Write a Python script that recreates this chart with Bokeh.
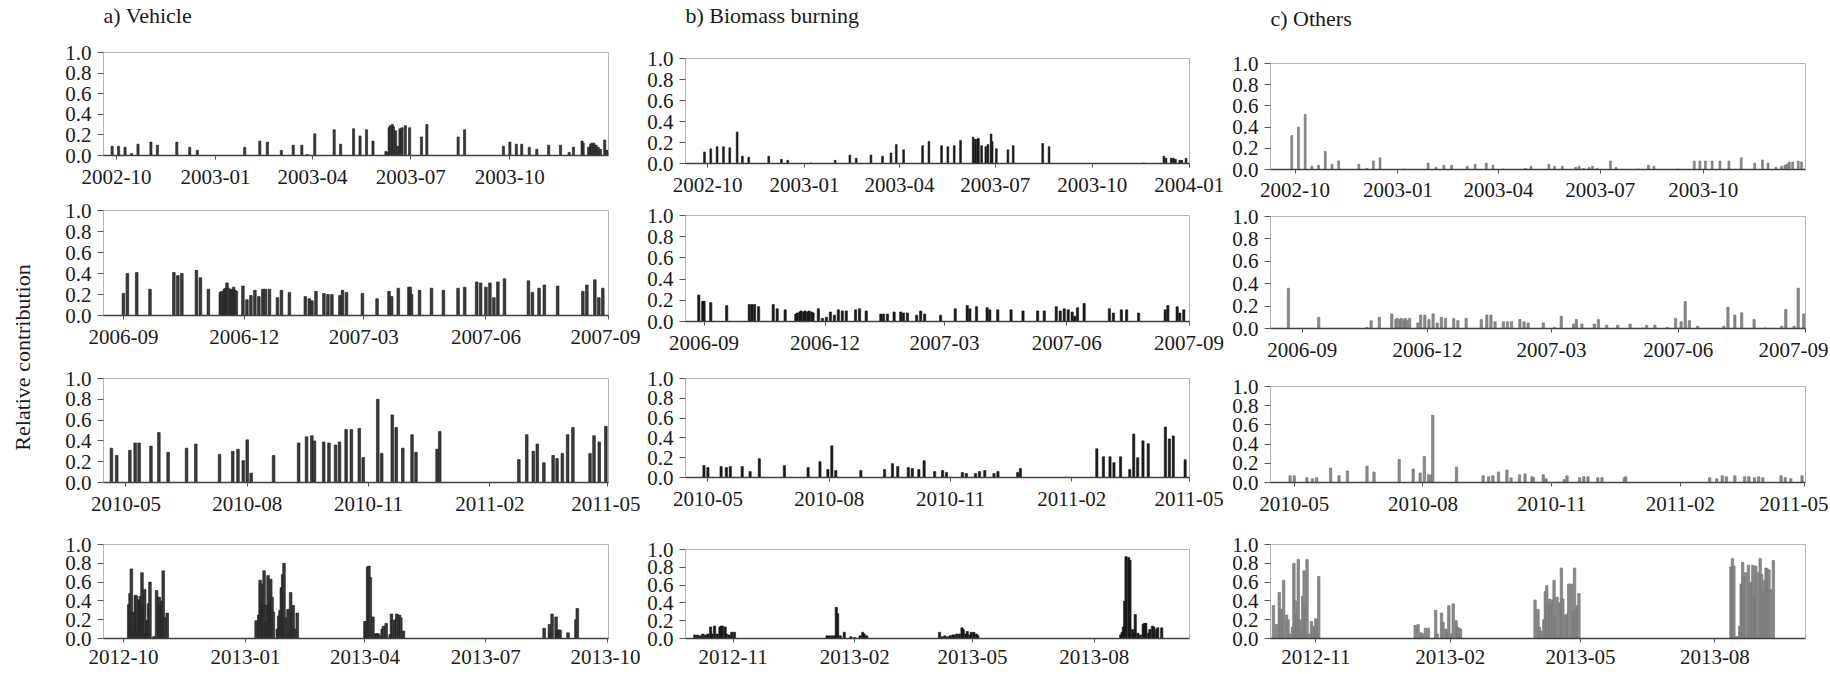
import pandas as pd
from bokeh.plotting import figure
from bokeh.models import (Range1d, FixedTicker, DatetimeTickFormatter,
                          PrintfTickFormatter, ColumnDataSource, Label)
from bokeh.layouts import row, column
from bokeh.embed import file_html
from bokeh.resources import INLINE

FONT = "Liberation Serif"

# ---------------- data ----------------
titles = ["a) Vehicle", "b) Biomass burning", "c) Others"]
y_label = "Relative contribution"
y_ticks = [0.0, 0.2, 0.4, 0.6, 0.8, 1.0]

# sample dates are stored as day numbers counted from each period's start date
start_p1 = "2002-10-01"
start_p2 = "2006-09-01"
start_p3 = "2010-05-01"
start_p4a = "2012-10-01"
start_p4bc = "2012-11-01"

ticks_p1 = ["2002-10", "2003-01", "2003-04", "2003-07", "2003-10", "2004-01"]
ticks_p2 = ["2006-09", "2006-12", "2007-03", "2007-06", "2007-09"]
ticks_p3 = ["2010-05", "2010-08", "2010-11", "2011-02", "2011-05"]
ticks_p4a = ["2012-10", "2013-01", "2013-04", "2013-07", "2013-10"]
ticks_p4bc = ["2012-11", "2013-02", "2013-05", "2013-08"]

# ---- period 1 ----
a1_days = [-4, 2, 8, 14, 20, 32, 38, 56, 68, 75, 119, 133, 140, 153, 164, 172, 177, 184, 202, 208,
           220, 226, 232, 238, 250, 251, 253, 254, 256, 257, 259, 261, 263, 265, 268, 272, 283, 288, 317, 323,
           359, 365, 371, 376, 383, 390, 401, 412, 420, 424, 432, 433, 438, 440, 441, 443, 445, 447, 449, 453, 455]
a1_vals = [0.09, 0.09, 0.08, 0.02, 0.11, 0.13, 0.10, 0.13, 0.08, 0.05, 0.08, 0.14, 0.13, 0.05, 0.10, 0.10, 0.01, 0.21, 0.25, 0.11,
           0.26, 0.19, 0.25, 0.14, 0.04, 0.03, 0.27, 0.29, 0.30, 0.28, 0.24, 0.09, 0.26, 0.27, 0.29, 0.27, 0.18, 0.30, 0.18, 0.25,
           0.09, 0.13, 0.11, 0.11, 0.08, 0.06, 0.10, 0.10, 0.03, 0.08, 0.14, 0.12, 0.08, 0.11, 0.12, 0.12, 0.10, 0.08, 0.06, 0.15, 0.05]

b1_days = [-3, 3, 9, 15, 21, 28, 33, 39, 58, 70, 76, 98, 121, 135, 141, 155, 166, 174, 179, 186,
           204, 210, 222, 228, 234, 240, 252, 254, 256, 257, 260, 264, 266, 269, 270, 274, 285, 290, 318, 324,
           414, 433, 435, 440, 442, 444, 448, 450, 454]
b1_vals = [0.11, 0.14, 0.16, 0.16, 0.15, 0.30, 0.07, 0.06, 0.07, 0.04, 0.03, 0.005, 0.03, 0.08, 0.05, 0.08, 0.07, 0.10, 0.18, 0.13,
           0.17, 0.21, 0.17, 0.16, 0.17, 0.22, 0.25, 0.23, 0.23, 0.24, 0.17, 0.16, 0.18, 0.28, 0.21, 0.14, 0.13, 0.17, 0.19, 0.16,
           0.005, 0.07, 0.05, 0.05, 0.05, 0.04, 0.03, 0.03, 0.05]

c1_days = [-3, 3, 9, 15, 21, 27, 33, 39, 57, 64, 70, 76, 97, 119, 126, 133, 140, 154, 161, 171,
           177, 186, 206, 211, 227, 232, 239, 251, 254, 258, 263, 266, 270, 282, 287, 307, 316, 321, 342, 357,
           362, 367, 373, 380, 388, 399, 411, 418, 423, 430, 435, 438, 440, 442, 445, 450, 453]
c1_vals = [0.32, 0.40, 0.52, 0.03, 0.04, 0.17, 0.05, 0.08, 0.05, 0.01, 0.08, 0.11, 0.005, 0.06, 0.02, 0.04, 0.04, 0.03, 0.05, 0.06,
           0.04, 0.005, 0.01, 0.03, 0.05, 0.03, 0.03, 0.02, 0.03, 0.01, 0.02, 0.03, 0.01, 0.08, 0.02, 0.005, 0.04, 0.03, 0.005, 0.08,
           0.08, 0.08, 0.08, 0.08, 0.08, 0.11, 0.06, 0.09, 0.06, 0.02, 0.03, 0.04, 0.05, 0.07, 0.07, 0.08, 0.07]

# ---- period 2 ----
a2_days = [0, 3, 10, 20, 38, 41, 44, 55, 58, 64, 73, 74, 76, 77, 78, 79, 81, 82, 83, 84,
           85, 90, 93, 96, 99, 102, 105, 107, 110, 116, 119, 125, 137, 140, 142, 145, 151, 154, 157, 163,
           165, 168, 180, 191, 200, 202, 207, 215, 216, 217, 223, 232, 241, 252, 257, 266, 269, 273, 276, 279,
           282, 287, 305, 308, 313, 317, 327, 346, 349, 355, 358, 361]
a2_vals = [0.21, 0.40, 0.41, 0.25, 0.41, 0.38, 0.40, 0.43, 0.36, 0.25, 0.22, 0.23, 0.25, 0.26, 0.31, 0.26, 0.25, 0.24, 0.27, 0.24,
           0.23, 0.28, 0.15, 0.19, 0.24, 0.18, 0.25, 0.25, 0.25, 0.17, 0.24, 0.22, 0.18, 0.16, 0.14, 0.23, 0.21, 0.20, 0.20, 0.19,
           0.24, 0.22, 0.21, 0.16, 0.23, 0.18, 0.26, 0.27, 0.27, 0.20, 0.24, 0.26, 0.24, 0.26, 0.27, 0.32, 0.31, 0.27, 0.31, 0.17,
           0.32, 0.35, 0.33, 0.22, 0.26, 0.29, 0.28, 0.23, 0.29, 0.34, 0.17, 0.26]

b2_days = [-4, -1, 0, 5, 17, 34, 36, 38, 41, 52, 55, 61, 69, 70, 72, 73, 75, 76, 78, 79,
           81, 82, 86, 89, 92, 95, 98, 101, 104, 107, 114, 117, 122, 133, 135, 138, 143, 148, 150, 153,
           160, 163, 166, 178, 189, 198, 200, 205, 213, 215, 221, 231, 240, 251, 256, 265, 268, 271, 274, 277,
           279, 281, 286, 305, 308, 314, 318, 327, 347, 349, 356, 358, 361]
b2_vals = [0.25, 0.19, 0.19, 0.18, 0.15, 0.16, 0.16, 0.16, 0.14, 0.16, 0.12, 0.11, 0.07, 0.08, 0.09, 0.10, 0.09, 0.10, 0.09, 0.10,
           0.09, 0.08, 0.12, 0.03, 0.04, 0.09, 0.06, 0.11, 0.10, 0.10, 0.11, 0.12, 0.10, 0.07, 0.07, 0.07, 0.09, 0.09, 0.08, 0.08,
           0.06, 0.10, 0.07, 0.06, 0.12, 0.15, 0.12, 0.14, 0.13, 0.11, 0.11, 0.11, 0.10, 0.10, 0.10, 0.14, 0.10, 0.12, 0.11, 0.09,
           0.05, 0.13, 0.17, 0.12, 0.08, 0.11, 0.11, 0.08, 0.11, 0.15, 0.14, 0.08, 0.11]

c2_days = [-10, 12, 47, 50, 56, 65, 68, 69, 71, 72, 74, 75, 76, 78, 84, 86, 89, 92, 95, 98,
           101, 104, 110, 113, 119, 130, 134, 137, 140, 146, 149, 152, 158, 161, 164, 175, 183, 188, 197, 199,
           203, 212, 215, 221, 229, 238, 247, 250, 256, 265, 271, 275, 278, 281, 287, 306, 309, 314, 319, 328,
           336, 348, 351, 357, 360, 364]
c2_vals = [0.36, 0.10, 0.01, 0.07, 0.10, 0.13, 0.08, 0.09, 0.08, 0.09, 0.08, 0.09, 0.07, 0.09, 0.05, 0.12, 0.12, 0.08, 0.13, 0.05,
           0.10, 0.09, 0.09, 0.07, 0.09, 0.08, 0.12, 0.12, 0.06, 0.06, 0.06, 0.06, 0.08, 0.06, 0.05, 0.05, 0.01, 0.11, 0.04, 0.08,
           0.04, 0.04, 0.08, 0.03, 0.03, 0.04, 0.005, 0.03, 0.03, 0.01, 0.09, 0.06, 0.24, 0.07, 0.02, 0.02, 0.19, 0.12, 0.14, 0.08,
           0.005, 0.02, 0.17, 0.02, 0.36, 0.13]

# ---- period 3 ----
a3_days = [-11, -7, 3, 7, 10, 19, 25, 32, 46, 53, 71, 81, 85, 89, 92, 95, 112, 131, 137, 141,
           143, 150, 154, 159, 162, 167, 171, 177, 180, 191, 194, 202, 205, 210, 217, 220, 236, 238, 298, 304,
           309, 312, 317, 324, 327, 331, 335, 339, 352, 355, 359, 364]
a3_vals = [0.33, 0.26, 0.31, 0.38, 0.38, 0.35, 0.48, 0.29, 0.33, 0.37, 0.27, 0.30, 0.32, 0.21, 0.41, 0.09, 0.26, 0.38, 0.44, 0.45,
           0.40, 0.39, 0.38, 0.36, 0.39, 0.51, 0.51, 0.52, 0.24, 0.80, 0.28, 0.65, 0.53, 0.33, 0.46, 0.29, 0.32, 0.49, 0.22, 0.46,
           0.30, 0.37, 0.19, 0.26, 0.23, 0.28, 0.46, 0.53, 0.28, 0.45, 0.39, 0.54]

b3_days = [-3, 0, 10, 14, 17, 26, 32, 39, 58, 76, 85, 91, 94, 97, 116, 134, 140, 144, 152, 155,
           160, 164, 172, 178, 181, 193, 196, 203, 206, 210, 217, 220, 235, 237, 295, 300, 305, 308, 313, 320,
           323, 326, 330, 334, 347, 350, 353, 362]
b3_vals = [0.12, 0.10, 0.11, 0.10, 0.11, 0.11, 0.06, 0.19, 0.12, 0.10, 0.16, 0.08, 0.32, 0.07, 0.07, 0.08, 0.14, 0.11, 0.10, 0.09,
           0.08, 0.17, 0.06, 0.07, 0.05, 0.05, 0.04, 0.04, 0.06, 0.07, 0.04, 0.06, 0.05, 0.09, 0.29, 0.21, 0.21, 0.15, 0.21, 0.08,
           0.44, 0.20, 0.37, 0.34, 0.51, 0.39, 0.42, 0.18]

c3_days = [-3, 0, 9, 13, 16, 26, 32, 38, 52, 57, 75, 85, 90, 93, 96, 98, 99, 116, 135, 139,
           142, 146, 152, 155, 161, 165, 170, 171, 178, 180, 189, 193, 195, 204, 207, 210, 217, 220, 236, 237,
           297, 302, 306, 309, 315, 322, 325, 329, 332, 335, 348, 351, 355, 363]
c3_vals = [0.07, 0.07, 0.05, 0.04, 0.05, 0.15, 0.07, 0.12, 0.17, 0.11, 0.24, 0.14, 0.10, 0.27, 0.08, 0.08, 0.70, 0.16, 0.07, 0.06,
           0.07, 0.11, 0.13, 0.05, 0.08, 0.09, 0.06, 0.05, 0.08, 0.04, 0.005, 0.03, 0.07, 0.05, 0.06, 0.06, 0.05, 0.05, 0.05, 0.06,
           0.05, 0.04, 0.07, 0.06, 0.07, 0.06, 0.06, 0.05, 0.06, 0.05, 0.07, 0.05, 0.04, 0.07]

# ---- period 4 ----
a4_days = [4, 5, 6, 7, 8, 9, 10, 11, 12, 13, 14, 15, 16, 17, 18, 19, 20, 23, 25, 27, 28, 29, 30, 31, 33,
           100, 102, 103, 104, 105, 106, 107, 108, 109, 110, 111, 112, 113, 116, 117, 118, 119, 120, 121, 122,
           124, 125, 126, 127, 128, 129, 131,
           182, 183, 184, 185, 186, 188, 190, 191, 192, 193, 195, 196, 198, 201, 202, 203, 205, 206, 208, 209, 211,
           317, 321, 322, 323, 326, 327, 328, 329, 335, 341, 342]
a4_vals = [0.36, 0.48, 0.74, 0.28, 0.07, 0.46, 0.45, 0.07, 0.41, 0.45, 0.70, 0.35, 0.52, 0.05, 0.19, 0.37, 0.60, 0.02, 0.51, 0.44,
           0.35, 0.40, 0.72, 0.22, 0.27,
           0.19, 0.25, 0.62, 0.58, 0.38, 0.72, 0.35, 0.17, 0.67, 0.37, 0.63, 0.44, 0.28, 0.10, 0.24, 0.30, 0.54, 0.68, 0.80, 0.22,
           0.31, 0.05, 0.49, 0.26, 0.35, 0.10, 0.27,
           0.18, 0.18, 0.76, 0.77, 0.65, 0.23, 0.05, 0.05, 0.05, 0.03, 0.10, 0.13, 0.16, 0.04, 0.26, 0.19, 0.20, 0.26, 0.25, 0.22, 0.08,
           0.11, 0.15, 0.04, 0.26, 0.23, 0.09, 0.09, 0.09, 0.06, 0.20, 0.32]

b4_days = [-29, -27, -25, -23, -21, -19, -17, -16, -14, -12, -10, -9, -8, -6, -5, -3, -1, 1,
           71, 73, 75, 77, 78, 79, 81, 84, 89, 92, 96, 98, 99, 101,
           156, 158, 160, 162, 164, 166, 167, 169, 171, 173, 174, 176, 177, 179, 180, 182, 184, 185,
           293, 294, 295, 296, 297, 299, 300, 302, 303, 304, 306, 308, 310, 311, 312, 314, 315, 317, 318, 320, 321, 324]
b4_vals = [0.04, 0.04, 0.03, 0.05, 0.04, 0.05, 0.13, 0.05, 0.14, 0.05, 0.13, 0.14, 0.14, 0.13, 0.05, 0.04, 0.07, 0.07,
           0.03, 0.03, 0.03, 0.03, 0.35, 0.28, 0.03, 0.07, 0.02, 0.01, 0.03, 0.07, 0.05, 0.03,
           0.07, 0.02, 0.03, 0.02, 0.03, 0.04, 0.04, 0.05, 0.05, 0.12, 0.10, 0.05, 0.08, 0.04, 0.07, 0.07, 0.05, 0.03,
           0.04, 0.07, 0.13, 0.42, 0.92, 0.91, 0.88, 0.10, 0.06, 0.27, 0.06, 0.04, 0.16, 0.17, 0.17, 0.06, 0.10, 0.14, 0.13,
           0.10, 0.12, 0.12]

c4_days = [-29, -27, -25, -24, -23, -22, -20, -19, -18, -16, -15, -14, -13, -12, -11, -10, -9, -8, -7, -6,
           -5, -3, -2, -1, 0, 1, 2,
           68, 70, 72, 73, 75, 77, 82, 83, 86, 87, 89, 90, 91, 93, 94, 96, 97, 98, 99,
           150, 152, 153, 154, 156, 157, 158, 159, 160, 161, 162, 163, 164, 165, 167, 168, 169, 171, 172, 173,
           175, 176, 177, 178, 179, 180,
           284, 285, 286, 288, 290, 291, 292, 293, 294, 296, 297, 298, 299, 300, 301, 302, 304, 305, 306, 307,
           308, 309, 310, 311, 313]
c4_vals = [0.35, 0.15, 0.49, 0.31, 0.30, 0.62, 0.25, 0.20, 0.05, 0.12, 0.80, 0.40, 0.25, 0.84, 0.20, 0.08, 0.45, 0.72, 0.33, 0.84,
           0.05, 0.18, 0.13, 0.10, 0.21, 0.16, 0.66,
           0.14, 0.15, 0.06, 0.05, 0.11, 0.11, 0.30, 0.05, 0.27, 0.17, 0.10, 0.06, 0.35, 0.05, 0.37, 0.19, 0.12, 0.11, 0.10,
           0.41, 0.31, 0.12, 0.08, 0.20, 0.50, 0.56, 0.37, 0.42, 0.36, 0.41, 0.62, 0.22, 0.44, 0.38, 0.75, 0.42, 0.25, 0.26, 0.58,
           0.58, 0.28, 0.75, 0.30, 0.35, 0.48,
           0.76, 0.85, 0.77, 0.02, 0.13, 0.58, 0.81, 0.65, 0.70, 0.78, 0.58, 0.60, 0.78, 0.47, 0.77, 0.70, 0.85, 0.68, 0.50, 0.62,
           0.75, 0.74, 0.73, 0.52, 0.83]

# ---------------- styling / layout ----------------
DAY_MS = 86400000.0
# per column: (fill, outline, bar width in days)
bar_style = [("#3a3a3a", "#1a1a1a", 2.0), ("#1a1a1a", "#1a1a1a", 1.7), ("#8a8a8a", "#6e6e6e", 1.7)]

TOTAL_W = 1828
TOTAL_H = 673
HEAD_H = 34          # strip holding the three panel-column titles
LAB_W = 48           # strip holding the shared y-axis title

# horizontal geometry of each column: (figure width, left border, right border)
col_geo = [(592, 55, 32), (588, 45, 39), (600, 42, 23)]
# vertical geometry per panel: (top border, frame height, bottom border, label standoff)
row_geo = [
    [(18, 103, 38, 10), (17, 105, 38, 10), (25, 104, 38, 10), (24, 94, 35, 7)],
    [(24, 105, 38, 10), (14, 106, 38, 10), (19, 99, 38, 10), (34, 89, 35, 7)],
    [(29, 106, 36, 9), (11, 112, 38, 10), (20, 96, 38, 10), (24, 94, 35, 7)],
]
title_x = [103, 685, 1270]          # left edge of each column's frames
title_y = [15, 15, 17.5]            # centre line of each title (from top)

fmt_kw = {k: "%Y-%m" for k in ["microseconds", "milliseconds", "seconds", "minsec", "minutes",
                                "hourmin", "hours", "days", "months", "years"]}

# panel spec: days, values, period start, axis start/end (days), tick labels
panels = [
    [(a1_days, a1_vals, start_p1, -12, 456.5, ticks_p1),
     (a2_days, a2_vals, start_p2, -15, 365.3, ticks_p2),
     (a3_days, a3_vals, start_p3, -17, 366, ticks_p3),
     (a4_days, a4_vals, start_p4a, -15, 365.5, ticks_p4a)],
    [(b1_days, b1_vals, start_p1, -21, 457.3, ticks_p1),
     (b2_days, b2_vals, start_p2, -14, 365.3, ticks_p2),
     (b3_days, b3_vals, start_p3, -17, 365.3, ticks_p3),
     (b4_days, b4_vals, start_p4bc, -36, 345, ticks_p4bc)],
    [(c1_days, c1_vals, start_p1, -22, 456.5, ticks_p1),
     (c2_days, c2_vals, start_p2, -23, 365.3, ticks_p2),
     (c3_days, c3_vals, start_p3, -17, 365.5, ticks_p3),
     (c4_days, c4_vals, start_p4bc, -31, 335, ticks_p4bc)],
]


def blank(width, height):
    f = figure(width=width, height=height, x_range=Range1d(0, width), y_range=Range1d(0, height),
               toolbar_location=None, output_backend="svg", min_border=0,
               x_axis_location=None, y_axis_location=None)
    f.outline_line_color = None
    f.grid.grid_line_color = None
    return f


def make_panel(ci, ri, spec):
    days, vals, start, lo, hi, ticks = spec
    n = min(len(days), len(vals))
    t0 = pd.Timestamp(start)
    xs = [t0 + pd.Timedelta(days=d) for d in days[:n]]
    src = ColumnDataSource(dict(x=xs, v=list(vals[:n])))
    w, bl, br = col_geo[ci]
    bt, fh, bb, so = row_geo[ci][ri]
    p = figure(width=w, height=bt + fh + bb, x_axis_type="datetime",
               x_range=Range1d(t0 + pd.Timedelta(days=lo), t0 + pd.Timedelta(days=hi)),
               y_range=Range1d(0, 1), toolbar_location=None, output_backend="svg",
               min_border_left=bl, min_border_right=br, min_border_top=bt, min_border_bottom=bb)
    fill, line, bw = bar_style[ci]
    p.vbar(x="x", top="v", width=bw * DAY_MS, source=src,
           fill_color=fill, line_color=line, line_width=0.6)
    tick_ms = [pd.Timestamp(t + "-01").value / 1e6 for t in ticks]
    p.xaxis.ticker = FixedTicker(ticks=tick_ms)
    p.xaxis.formatter = DatetimeTickFormatter(**fmt_kw)
    p.yaxis.ticker = FixedTicker(ticks=y_ticks)
    p.yaxis.formatter = PrintfTickFormatter(format="%.1f")
    for ax in (p.xaxis[0], p.yaxis[0]):
        ax.major_label_text_font = FONT
        ax.major_label_text_font_size = "21px"
        ax.major_label_text_color = "#1a1a1a"
        ax.minor_tick_line_color = None
        ax.major_tick_in = 0
        ax.major_tick_line_color = "#555555"
    p.xaxis.axis_line_color = "#404040"
    p.xaxis.axis_line_width = 1.5
    p.xaxis.major_tick_out = 4
    p.xaxis.major_label_standoff = so
    p.yaxis.axis_line_color = None
    p.yaxis.major_tick_out = 6
    p.yaxis.major_label_standoff = 6
    p.xgrid.grid_line_color = None
    p.ygrid.grid_line_color = None
    p.outline_line_color = "#b5b5b5"
    p.outline_line_width = 1
    return p


cols = []
for ci in range(3):
    figs = [make_panel(ci, ri, panels[ci][ri]) for ri in range(4)]
    cols.append(column(*figs, spacing=0))

# header strip with the three column titles
head = blank(TOTAL_W, HEAD_H)
for t, tx, ty in zip(titles, title_x, title_y):
    head.add_layout(Label(x=tx, y=HEAD_H - ty, text=t, text_align="left", text_baseline="middle",
                          text_font=FONT, text_font_size="22px", text_color="#1a1a1a"))

# narrow strip carrying the shared y-axis title
body_h = TOTAL_H - HEAD_H
lab = blank(LAB_W, body_h)
lab.add_layout(Label(x=22, y=body_h - (357 - HEAD_H), text=y_label, angle=90, angle_units="deg",
                     text_align="center", text_baseline="middle", text_font=FONT,
                     text_font_size="22px", text_color="#1a1a1a"))

layout = column(head, row(lab, *cols, spacing=0), spacing=0)
open("out.html", "w").write(file_html(layout, INLINE, "Relative contribution"))
